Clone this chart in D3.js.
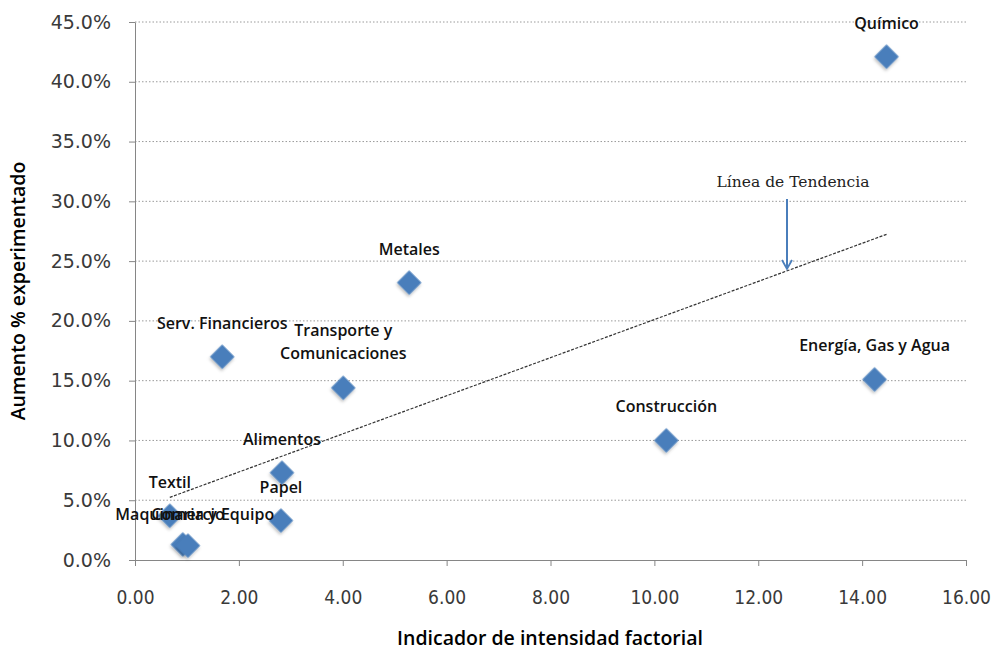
<!DOCTYPE html>
<html>
<head>
<meta charset="utf-8">
<script src="https://cdn.jsdelivr.net/npm/d3@7"></script>
<style>
  body { margin: 0; background: #fff; }
  svg { display: block; }
</style>
</head>
<body>
<div id="chart"></div>
<script>
// sector names, factor intensity (x) and growth % (y)
const sectors = ["Químico", "Metales", "Serv. Financieros", "Transporte y Comunicaciones",
    "Energía, Gas y Agua", "Construcción", "Alimentos", "Papel", "Textil",
    "Maquinaria y Equipo", "Comercio"];
const intensidad = [14.47, 5.28, 1.68, 4.01, 14.24, 10.23, 2.83, 2.81, 0.67, 0.92, 1.02];
const aumento = [0.421, 0.232, 0.170, 0.144, 0.151, 0.100, 0.073, 0.033, 0.037, 0.013, 0.012];

const xTicks = [0, 2, 4, 6, 8, 10, 12, 14, 16];
const yTicks = [0, 0.05, 0.10, 0.15, 0.20, 0.25, 0.30, 0.35, 0.40, 0.45];

const width = 992, height = 654;
const margin = {top: 22, right: 26, bottom: 94, left: 135};

const svg = d3.select("#chart").append("svg")
    .attr("width", width)
    .attr("height", height);

const defs = svg.append("defs");

// soft shadow under the diamonds
const shadow = defs.append("filter")
    .attr("id", "shadow")
    .attr("x", "-50%").attr("y", "-50%")
    .attr("width", "200%").attr("height", "200%");
shadow.append("feDropShadow")
    .attr("dx", 1).attr("dy", 2)
    .attr("stdDeviation", 1.5)
    .attr("flood-color", "#000")
    .attr("flood-opacity", 0.25);

const x = d3.scaleLinear().domain([0, 16]).range([margin.left, width - margin.right]);
const y = d3.scaleLinear().domain([0, 0.45]).range([height - margin.bottom, margin.top]);

// dotted horizontal gridlines
svg.append("g")
    .selectAll("line")
    .data(yTicks.slice(1))
    .enter()
    .append("line")
    .attr("x1", x(0))
    .attr("x2", x(16))
    .attr("y1", d => y(d))
    .attr("y2", d => y(d))
    .style("stroke", "#9a9a9a")
    .style("stroke-width", 1)
    .style("stroke-dasharray", "1.5,2");

// axes
const yAxis = svg.append("g")
    .attr("transform", `translate(${x(0)},0)`)
    .call(d3.axisLeft(y).tickValues(yTicks).tickFormat(d3.format(".1%")).tickSize(6).tickSizeOuter(0));

const xAxis = svg.append("g")
    .attr("transform", `translate(0,${y(0)})`)
    .call(d3.axisBottom(x).tickValues(xTicks).tickFormat(d3.format(".2f")).tickSize(6).tickSizeOuter(0));

[xAxis, yAxis].forEach(ax => {
    ax.select(".domain").style("stroke", "#868686");
    ax.selectAll(".tick line").style("stroke", "#868686");
});
yAxis.selectAll("text")
    .attr("x", -24)
    .style("font-family", "DejaVu Sans, Verdana, sans-serif")
    .style("font-size", "19px")
    .style("fill", "#3a3a3a");
xAxis.selectAll("text")
    .attr("y", 31)
    .style("font-family", "DejaVu Sans, sans-serif")
    .style("font-stretch", "condensed")
    .style("font-size", "19px")
    .style("fill", "#3a3a3a");

// axis titles
svg.append("text")
    .attr("transform", `translate(25,${(y(0) + y(0.45)) / 2}) rotate(-90)`)
    .attr("text-anchor", "middle")
    .style("font-family", "Open Sans, sans-serif")
    .style("font-weight", 600)
    .style("font-size", "19.5px")
    .text("Aumento % experimentado");

svg.append("text")
    .attr("x", 550)
    .attr("y", 645)
    .attr("text-anchor", "middle")
    .style("font-family", "Open Sans, sans-serif")
    .style("font-weight", 600)
    .style("font-size", "19.5px")
    .text("Indicador de intensidad factorial");

// trend line (least squares fit over the points)
const mx = d3.mean(intensidad), my = d3.mean(aumento);
const slope = d3.sum(intensidad, (v, i) => (v - mx) * (aumento[i] - my)) /
    d3.sum(intensidad, v => (v - mx) * (v - mx));
const icpt = my - slope * mx;
const [x0, x1] = d3.extent(intensidad);
svg.append("line")
    .attr("x1", x(x0)).attr("y1", y(icpt + slope * x0))
    .attr("x2", x(x1)).attr("y2", y(icpt + slope * x1))
    .style("stroke", "#333")
    .style("stroke-width", 1.2)
    .style("stroke-dasharray", "3,1.5");

// points
const pts = sectors.map((s, i) => ({name: s, x: intensidad[i], y: aumento[i]}));
const diamond = d3.symbol().type(d3.symbolSquare).size(300);
svg.append("g")
    .selectAll("path")
    .data(pts)
    .enter()
    .append("path")
    .attr("d", diamond)
    .attr("transform", d => `translate(${x(d.x)},${y(d.y)}) rotate(45)`)
    .attr("filter", "url(#shadow)")
    .style("fill", "#4a7ebb");

// point labels
const labelOffset = {
    "Maquinaria y Equipo": [12, 4],
    "Comercio": [0, 2]
};
const labels = svg.append("g")
    .selectAll("text")
    .data(pts)
    .enter()
    .append("text")
    .attr("text-anchor", "middle")
    .attr("x", d => x(d.x) + (labelOffset[d.name] ? labelOffset[d.name][0] : 0))
    .attr("y", d => y(d.y) - 28 + (labelOffset[d.name] ? labelOffset[d.name][1] : 0))
    .style("font-family", "Open Sans, sans-serif")
    .style("font-weight", 600)
    .style("font-size", "16px")
    .style("fill", "#111");
labels.each(function(d) {
    const t = d3.select(this);
    if (d.name === "Transporte y Comunicaciones") {
        t.attr("y", y(d.y) - 52);
        t.append("tspan").attr("x", x(d.x)).text("Transporte y");
        t.append("tspan").attr("x", x(d.x)).attr("dy", 23).text("Comunicaciones");
    } else {
        t.text(d.name);
    }
});

// annotation arrow
defs.append("marker")
    .attr("id", "arrow")
    .attr("viewBox", "0 0 12 12")
    .attr("refX", 10).attr("refY", 6)
    .attr("markerWidth", 12).attr("markerHeight", 12)
    .attr("markerUnits", "userSpaceOnUse")
    .attr("orient", "auto")
    .append("path")
    .attr("d", "M1,1 L10,6 L1,11")
    .style("fill", "none")
    .style("stroke", "#4a7ebb")
    .style("stroke-width", 1.8);

svg.append("line")
    .attr("x1", 787).attr("y1", 199)
    .attr("x2", 787).attr("y2", 269)
    .style("stroke", "#4a7ebb")
    .style("stroke-width", 2)
    .attr("marker-end", "url(#arrow)");

svg.append("text")
    .attr("x", 793)
    .attr("y", 187)
    .attr("text-anchor", "middle")
    .style("font-family", "DejaVu Serif, serif")
    .style("font-size", "15.5px")
    .style("fill", "#222")
    .text("Línea de Tendencia");
</script>
</body>
</html>
